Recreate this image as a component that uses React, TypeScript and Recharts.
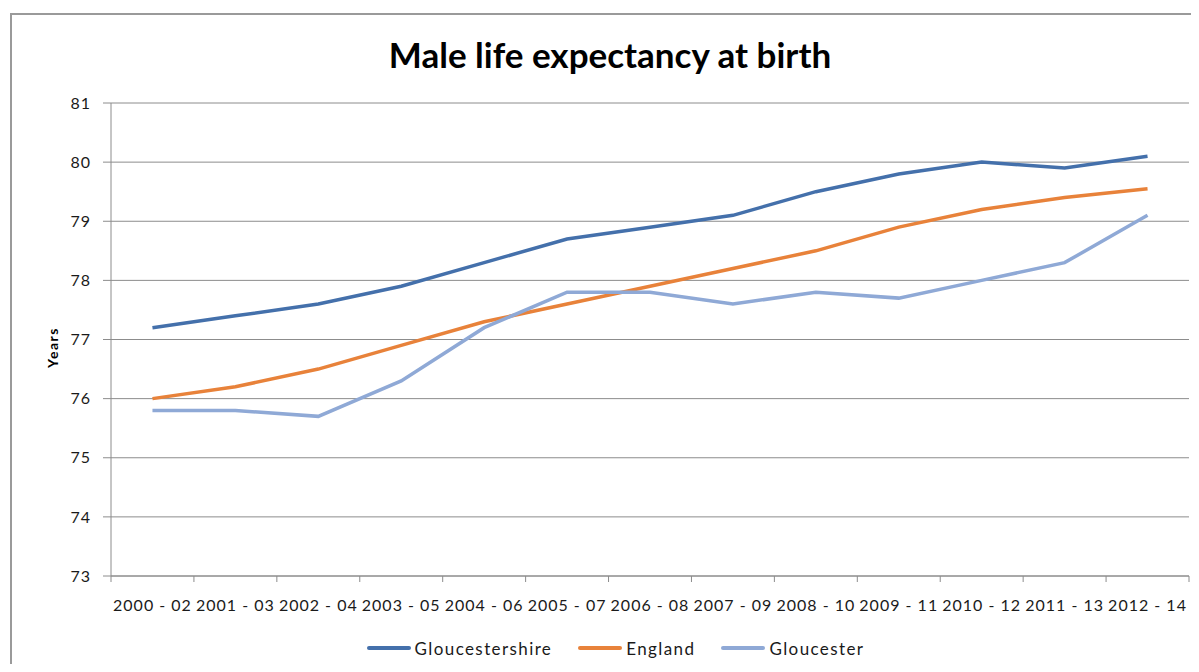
import { CartesianGrid, Legend, Line, LineChart, XAxis, YAxis } from "recharts";

const PERIODS = [
  "2000 - 02", "2001 - 03", "2002 - 04", "2003 - 05", "2004 - 06", "2005 - 07", "2006 - 08",
  "2007 - 09", "2008 - 10", "2009 - 11", "2010 - 12", "2011 - 13", "2012 - 14",
];
const GLOUCESTERSHIRE = [77.2, 77.4, 77.6, 77.9, 78.3, 78.7, 78.9, 79.1, 79.5, 79.8, 80.0, 79.9, 80.1];
const ENGLAND = [76.0, 76.2, 76.5, 76.9, 77.3, 77.6, 77.9, 78.2, 78.5, 78.9, 79.2, 79.4, 79.55];
const GLOUCESTER = [75.8, 75.8, 75.7, 76.3, 77.2, 77.8, 77.8, 77.6, 77.8, 77.7, 78.0, 78.3, 79.1];
const Y_TICKS = [73, 74, 75, 76, 77, 78, 79, 80, 81];

const SERIES = [
  { key: "Gloucestershire", color: "#4470ab" },
  { key: "England", color: "#e8823a" },
  { key: "Gloucester", color: "#8fa9d6" },
];

const data = PERIODS.map((period, i) => ({
  period,
  Gloucestershire: GLOUCESTERSHIRE[i],
  England: ENGLAND[i],
  Gloucester: GLOUCESTER[i],
}));

const W = 1183;
const H = 656;
const MARGIN = { top: 95, right: 2, left: 0, bottom: 4 };
const Y_AXIS_W = 103;
const STEP = (W - MARGIN.right - MARGIN.left - Y_AXIS_W) / PERIODS.length;
const AXIS = "#8c8c8c";
const FONT = "Lato, 'Open Sans', sans-serif";

function PeriodTick(props: any) {
  const { x, y, payload, index } = props;
  return (
    <g>
      <line x1={x - STEP / 2} x2={x - STEP / 2} y1={y} y2={y + 6} stroke={AXIS} />
      {index === PERIODS.length - 1 && (
        <line x1={x + STEP / 2} x2={x + STEP / 2} y1={y} y2={y + 6} stroke={AXIS} />
      )}
      <text x={x} y={y + 35} textAnchor="middle" fontSize={16} letterSpacing={1} fill="#1a1a1a" fontFamily={FONT}>
        {payload.value}
      </text>
    </g>
  );
}

function YearsLabel(props: any) {
  const vb = props.viewBox || { x: 0, y: 95, height: 473 };
  const cx = vb.x + 44;
  const cy = vb.y + vb.height / 2 + 8;
  return (
    <text x={cx} y={cy} transform={`rotate(-90 ${cx} ${cy})`} textAnchor="middle" dominantBaseline="central"
      fontSize={14} fontWeight="bold" letterSpacing={1.5} fill="#000" fontFamily={FONT}>
      Years
    </text>
  );
}

function LegendRow() {
  return (
    <div style={{ display: "flex", justifyContent: "center", alignItems: "center", height: 24, paddingLeft: 60, fontFamily: FONT }}>
      {SERIES.map((s) => (
        <div key={s.key} style={{ display: "flex", alignItems: "center", marginRight: 26 }}>
          <span style={{ display: "inline-block", width: 44, height: 4, background: s.color, borderRadius: 2, marginRight: 4 }} />
          <span style={{ fontSize: 17, letterSpacing: 1.4, color: "#1a1a1a" }}>{s.key}</span>
        </div>
      ))}
    </div>
  );
}

export default function App() {
  return (
    <div style={{ position: "relative", width: W, height: H, background: "#fff" }}>
      <div style={{ position: "absolute", left: 2, top: 5, right: 0, bottom: 0, borderLeft: "2px solid #9a9a9a", borderTop: "2px solid #9a9a9a" }} />
      <div style={{ position: "absolute", left: 21, width: W - 21, top: 25, textAlign: "center", fontFamily: FONT, fontWeight: "bold", fontSize: 35, lineHeight: "42px", color: "#000" }}>
        Male life expectancy at birth
      </div>
      <LineChart width={W} height={H} data={data} margin={MARGIN}>
        <CartesianGrid vertical={false} stroke={AXIS} />
        <XAxis dataKey="period" scale="band" interval={0} tickLine={false} tickSize={0} tickMargin={0} height={60}
          axisLine={{ stroke: AXIS }} tick={<PeriodTick />} />
        <YAxis domain={[73, 81]} ticks={Y_TICKS} width={Y_AXIS_W} tickSize={8} tickMargin={12}
          axisLine={{ stroke: AXIS }} tickLine={{ stroke: AXIS }}
          tick={{ fontSize: 16, fill: "#1a1a1a", fontFamily: FONT, letterSpacing: 1 }}
          label={(p: any) => <YearsLabel {...p} />} />
        <Legend verticalAlign="bottom" content={() => <LegendRow />} />
        {SERIES.map((s) => (
          <Line key={s.key} type="linear" dataKey={s.key} stroke={s.color} strokeWidth={3.5} dot={false} isAnimationActive={false} />
        ))}
      </LineChart>
    </div>
  );
}
